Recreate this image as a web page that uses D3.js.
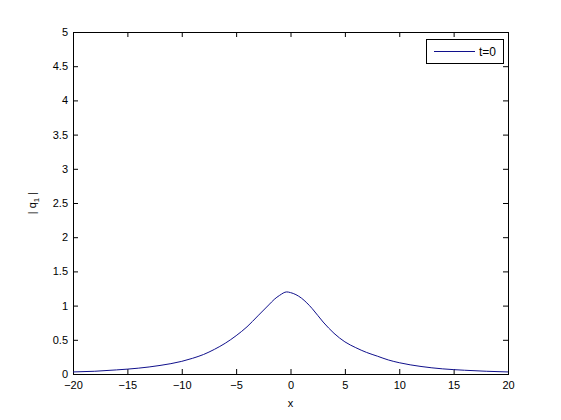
<!DOCTYPE html>
<html>
<head>
<meta charset="utf-8">
<script src="https://cdn.jsdelivr.net/npm/d3@7"></script>
<style>
  body { margin: 0; background: #fff; }
  text { font-family: "Liberation Sans", Arial, sans-serif; }
</style>
</head>
<body>
<div id="chart"></div>
<script>
// values
var xValues = [-20,-18,-16,-14,-12,-10,-9,-8,-7,-6,-5,-4,-3,-2,-1.5,-1,-0.35,0,0.5,1,1.5,2,3,4,5,6,7,8,9,10,12,14,16,18,20];
var qValues = [0.03,0.04,0.06,0.085,0.125,0.185,0.23,0.285,0.36,0.45,0.56,0.69,0.85,1.01,1.09,1.15,1.20,1.19,1.16,1.11,1.04,0.955,0.76,0.595,0.47,0.385,0.315,0.26,0.205,0.165,0.11,0.075,0.055,0.04,0.03];
var xTicks = [-20,-15,-10,-5,0,5,10,15,20];
var yTicks = [0,0.5,1,1.5,2,2.5,3,3.5,4,4.5,5];
var seriesName = "t=0";

var margin = {top: 32, right: 53, bottom: 46, left: 73},
    width = 561 - margin.left - margin.right,
    height = 420 - margin.top - margin.bottom;

var svg = d3.select("#chart")
  .append("svg")
    .attr("width", 561)
    .attr("height", 420)
  .append("g")
    .attr("transform", "translate(" + margin.left + "," + margin.top + ")");

var x = d3.scaleLinear().domain([-20, 20]).range([0, width]);
var y = d3.scaleLinear().domain([0, 5]).range([height, 0]);

// axes with inward ticks, mirrored on top and right
function styleAxis(g) {
  g.select(".domain").remove();
  g.selectAll("line").attr("stroke", "#000");
  g.selectAll("text").style("font-size", "11px").attr("fill", "#000");
}
svg.append("g")
  .attr("transform", "translate(0," + height + ")")
  .call(d3.axisBottom(x).tickValues(xTicks).tickSizeInner(-5).tickSizeOuter(0).tickPadding(7))
  .call(styleAxis);
svg.append("g")
  .call(d3.axisTop(x).tickValues(xTicks).tickSizeInner(-5).tickSizeOuter(0).tickFormat(""))
  .call(styleAxis);
svg.append("g")
  .call(d3.axisLeft(y).tickValues(yTicks).tickSizeInner(-5).tickSizeOuter(0).tickPadding(5).tickFormat(d3.format("")))
  .call(styleAxis);
svg.append("g")
  .attr("transform", "translate(" + width + ",0)")
  .call(d3.axisRight(y).tickValues(yTicks).tickSizeInner(-5).tickSizeOuter(0).tickFormat(""))
  .call(styleAxis);

svg.append("rect")
  .attr("width", width)
  .attr("height", height)
  .attr("fill", "none")
  .attr("stroke", "#000")
  .attr("stroke-width", 1)
  .attr("shape-rendering", "crispEdges");

// curve
var data = xValues.map(function(d, i) { return {x: d, q: qValues[i]}; });
svg.append("path")
  .datum(data)
  .attr("fill", "none")
  .attr("stroke", "#10108c")
  .attr("stroke-width", 1)
  .attr("d", d3.line()
    .x(function(d) { return x(d.x); })
    .y(function(d) { return y(d.q); })
    .curve(d3.curveMonotoneX));

// axis labels
svg.append("text")
  .attr("x", width / 2)
  .attr("y", height + 33)
  .attr("text-anchor", "middle")
  .style("font-size", "11px")
  .text("x");

var ylab = svg.append("text")
  .attr("transform", "translate(-37," + (height / 2) + ") rotate(-90)")
  .attr("text-anchor", "middle")
  .style("font-size", "11px");
ylab.append("tspan").text("| q");
ylab.append("tspan").attr("dy", 3).style("font-size", "8px").text("1");
ylab.append("tspan").attr("dy", -3).text(" |");

// legend
var legend = svg.append("g")
  .attr("transform", "translate(" + (width - 82) + ",7)");
legend.append("rect")
  .attr("width", 77)
  .attr("height", 24)
  .attr("fill", "#fff")
  .attr("stroke", "#000")
  .attr("shape-rendering", "crispEdges");
legend.append("line")
  .attr("x1", 8).attr("x2", 49)
  .attr("y1", 12.5).attr("y2", 12.5)
  .attr("stroke", "#10108c");
legend.append("text")
  .attr("x", 53)
  .attr("y", 16.5)
  .style("font-size", "12px")
  .text(seriesName);
</script>
</body>
</html>
